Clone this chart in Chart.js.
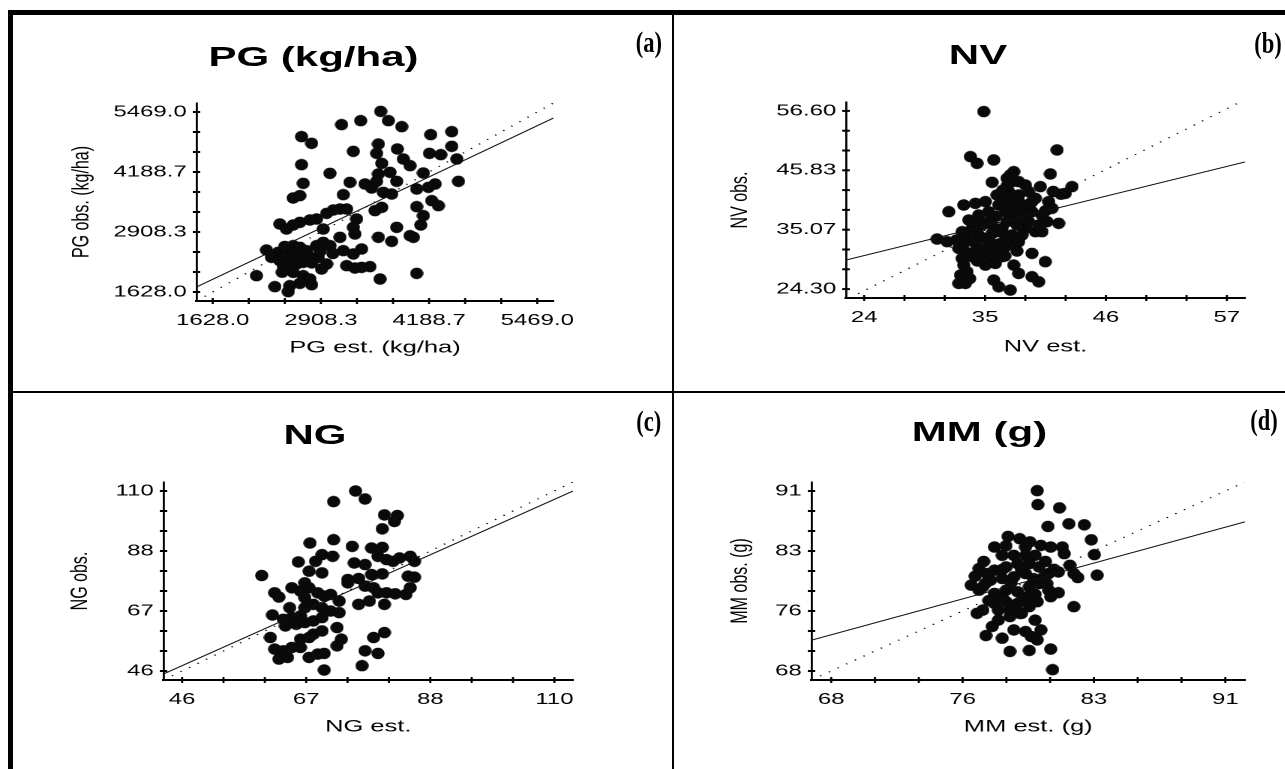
<!DOCTYPE html>
<html lang="pt">
<head>
<meta charset="utf-8">
<title>PG, NV, NG, MM - observado x estimado</title>
<script src="https://cdn.jsdelivr.net/npm/chart.js@4.4.1/dist/chart.umd.min.js"></script>
<style>
  html, body { margin:0; padding:0; background:#fff; }
  #page { position:relative; width:1285px; height:769px; overflow:hidden; background:#fff; }
  .rule { position:absolute; background:#000; }
  /* the whole figure is stretched sideways, like the original export */
  #fig { position:absolute; left:0; top:0; width:856.67px; height:769px; transform:scaleX(1.5); transform-origin:0 0; }
  #fig canvas { position:absolute; }
  .ptitle { position:absolute; transform:translateX(-50%); font:bold 28px/28px 'Liberation Sans', Arial, sans-serif; white-space:nowrap; color:#000; }
  .tag { position:absolute; font:bold 30px/30px 'Liberation Serif', 'DejaVu Serif', serif; color:#000; transform:scaleX(0.75); transform-origin:100% 50%; }
</style>
</head>
<body>
<div id="page">
  <div class="rule" style="left:8px;top:10px;width:1277px;height:5px"></div>
  <div class="rule" style="left:8px;top:10px;width:5px;height:759px"></div>
  <div class="rule" style="left:672px;top:15px;width:2px;height:754px"></div>
  <div class="rule" style="left:13px;top:391px;width:1272px;height:2px"></div>

  <div id="fig">
    <canvas id="cPG" width="354" height="275" style="left:45px;top:83px"></canvas>
    <canvas id="cNV" width="356" height="275" style="left:484px;top:82px"></canvas>
    <canvas id="cNG" width="368" height="275" style="left:44px;top:462px"></canvas>
    <canvas id="cMM" width="356" height="275" style="left:484px;top:462px"></canvas>

    <div class="ptitle" style="left:209px;top:43px">PG (kg/ha)</div>
    <div class="ptitle" style="left:652px;top:41px">NV</div>
    <div class="ptitle" style="left:210px;top:421px">NG</div>
    <div class="ptitle" style="left:653px;top:418px">MM (g)</div>
  </div>

  <div class="tag" style="right:623px;top:27px">(a)</div>
  <div class="tag" style="right:3px;top:28px">(b)</div>
  <div class="tag" style="right:624px;top:406px">(c)</div>
  <div class="tag" style="right:7px;top:405px">(d)</div>
</div>

<script>
// =============================================================
// DATA
// =============================================================

// (a) PG (kg/ha)
const pgEst = [3616, 3153, 3379, 3707, 3865, 2679, 2798, 4208, 4457, 3292,
  3588, 3568, 3813, 4193, 4327, 4457, 4517, 2679, 3628, 3884,
  3963, 3015, 3588, 3726, 4121, 2699, 3252, 3430, 3568, 3805,
  4260, 4536, 2580, 2659, 3173, 3509, 3647, 3746, 4042, 4181,
  4220, 4299, 3055, 2976, 2857, 2778, 2659, 2580, 2422, 2501,
  3134, 3213, 3331, 3548, 3628, 4042, 4121, 4090, 2936, 3292,
  3311, 3805, 3963, 4003, 3134, 3588, 3746, 2264, 2403, 2501,
  2580, 2659, 2738, 2857, 2936, 3015, 3173, 3292, 3390, 2323,
  2422, 2541, 2659, 2758, 2877, 2462, 2541, 2620, 2699, 2976,
  2916, 3213, 3311, 3489, 3390, 2146, 2580, 2699, 2778, 2798,
  2659, 2363, 2541, 2521, 3608, 4042, 2600, 2700, 2480, 2800,
  2560, 2450, 2900, 3050];
const pgObs = [5483, 5199, 5284, 5284, 5156, 4943, 4801, 4986, 5050, 4630,
  4786, 4587, 4680, 4587, 4559, 4737, 4466, 4345, 4374, 4466,
  4324, 4160, 4146, 4182, 4167, 3947, 3968, 3933, 3990, 3990,
  3933, 3990, 3634, 3684, 3705, 3847, 3755, 3719, 3826, 3862,
  3577, 3470, 3378, 3307, 3186, 3165, 3115, 3058, 3079, 2972,
  3399, 3399, 3186, 3364, 3435, 3449, 3257, 3058, 2972, 3008,
  2866, 3008, 2830, 2795, 2795, 2795, 2709, 2524, 2475, 2524,
  2617, 2581, 2510, 2617, 2688, 2617, 2510, 2439, 2546, 2368,
  2297, 2368, 2332, 2403, 2368, 2190, 2154, 2226, 2261, 2226,
  2119, 2190, 2140, 2169, 2154, 1976, 2048, 1976, 1905, 1784,
  1813, 1742, 1763, 1635, 1905, 2026, 2450, 2420, 2600, 2250,
  2300, 2050, 2500, 2450];
const pgTicks = [1628.0, 2908.33, 4188.67, 5469.0];
const pgTickLabels = ['1628.0', '2908.3', '4188.7', '5469.0'];
const pgFitX = [1436, 5661];
const pgFitY = [1735, 5341];
const pgOneToOne = [1436, 5661];

// (b) NV
const nvEst = [34.88, 41.55, 33.67, 34.27, 35.79, 37.61, 37.00, 38.06, 35.64, 40.94,
  40.03, 38.67, 42.91, 42.30, 31.70, 33.06, 34.12, 35.03, 41.09, 41.70,
  30.64, 31.55, 32.91, 33.82, 34.73, 36.09, 36.85, 37.45, 36.24, 36.85,
  37.76, 38.52, 39.27, 40.18, 40.64, 39.58, 40.18, 38.67, 37.91, 37.45,
  36.55, 37.00, 33.21, 34.12, 35.03, 35.64, 32.61, 33.21, 34.12, 35.03,
  35.94, 36.85, 37.45, 32.91, 33.82, 34.73, 35.64, 36.55, 33.06, 35.03,
  35.94, 39.27, 40.48, 37.61, 38.06, 32.76, 33.36, 32.61, 33.21, 35.79,
  36.24, 37.30, 39.27, 39.88, 37.45, 37.15, 38.06, 38.97, 39.58, 40.79,
  35.33, 34.42, 33.52, 35.33, 36.24, 38.06, 38.97, 39.88, 38.36, 34.42,
  37.45, 39.27, 37.30, 37.00, 36.60, 36.80, 37.90, 38.30, 36.00, 35.60,
  34.00, 36.90, 35.50, 33.80, 34.50, 36.30, 38.80, 40.50, 41.20, 41.90,
  39.00, 38.00, 33.00, 32.40, 34.30, 36.80, 37.90, 33.60];
const nvObs = [56.48, 49.52, 48.31, 47.10, 47.71, 45.59, 44.38, 43.78, 43.66, 45.17,
  42.87, 43.17, 42.87, 41.66, 38.33, 39.54, 39.84, 40.15, 38.94, 36.22,
  33.37, 32.89, 34.70, 35.31, 35.91, 41.36, 40.75, 40.15, 39.54, 38.33,
  37.73, 39.54, 38.33, 37.73, 36.52, 34.70, 34.70, 35.31, 35.91, 34.10,
  35.31, 36.52, 32.89, 32.59, 33.49, 34.40, 31.68, 31.07, 31.07, 31.68,
  31.68, 31.98, 32.89, 29.86, 30.17, 30.47, 30.17, 30.17, 28.65, 28.65,
  28.96, 30.77, 29.26, 28.65, 27.14, 26.84, 27.45, 25.33, 25.33, 25.93,
  24.72, 24.12, 26.54, 25.63, 43.78, 41.96, 41.36, 41.96, 40.75, 40.15,
  38.33, 37.73, 36.82, 36.52, 34.70, 32.89, 36.52, 35.91, 34.10, 34.10,
  37.12, 40.15, 45.00, 43.00, 42.20, 39.20, 39.00, 37.00, 37.50, 36.00,
  36.20, 33.50, 32.70, 33.80, 31.50, 32.50, 37.80, 38.50, 42.00, 41.50,
  39.30, 40.50, 33.50, 33.20, 29.40, 30.30, 31.20, 26.20];
const nvXTicks = [24, 35, 46, 57];
const nvXTickLabels = ['24', '35', '46', '57'];
const nvYTicks = [24.30, 35.07, 45.83, 56.60];
const nvYTickLabels = ['24.30', '35.07', '45.83', '56.60'];
const nvFitX = [22.35, 58.65];
const nvFitY = [29.56, 47.34];
const nvOneToOne = [22.69, 58.21];

// (c) NG
const ngEst = [75.82, 77.45, 72.04, 80.78, 83.00, 82.49, 80.41, 67.98, 72.04, 75.24,
  78.56, 80.41, 70.05, 71.89, 68.94, 65.97, 75.59, 77.45, 79.67, 81.14,
  82.27, 83.38, 85.22, 85.95, 59.69, 67.83, 70.05, 74.48, 76.34, 78.56,
  80.41, 84.85, 85.95, 61.91, 62.64, 64.86, 66.34, 67.09, 67.83, 69.31,
  70.42, 71.53, 73.00, 74.48, 77.45, 78.92, 79.67, 81.14, 82.63, 84.48,
  85.22, 76.34, 78.19, 80.78, 67.09, 68.56, 70.05, 71.53, 73.00, 61.53,
  63.39, 64.86, 66.34, 67.09, 64.50, 63.75, 65.61, 67.09, 68.56, 70.05,
  72.64, 61.17, 68.56, 70.05, 78.92, 80.78, 66.34, 67.83, 73.38, 72.64,
  61.91, 63.39, 64.86, 66.34, 62.64, 64.13, 67.83, 69.31, 70.42, 77.45,
  79.67, 70.42, 76.93];
const ngObs = [110.0, 107.17, 106.23, 101.51, 101.28, 99.16, 96.56, 91.50, 92.68, 90.32,
  89.73, 89.96, 87.37, 86.78, 85.01, 84.78, 84.42, 83.84, 86.78, 85.60,
  85.01, 86.19, 86.78, 85.01, 79.95, 81.48, 80.89, 78.53, 78.88, 80.30,
  80.54, 79.71, 79.36, 73.82, 72.28, 75.59, 74.40, 77.35, 75.59, 73.82,
  72.64, 73.23, 70.87, 77.35, 76.17, 75.59, 73.82, 73.82, 73.46, 73.23,
  75.59, 69.69, 70.87, 69.69, 72.05, 69.69, 68.51, 67.33, 66.75, 65.92,
  64.39, 64.98, 65.57, 68.51, 68.51, 62.03, 62.62, 63.21, 63.80, 64.98,
  61.44, 57.91, 59.08, 60.26, 57.91, 59.67, 57.32, 57.91, 57.32, 54.96,
  53.78, 53.19, 54.37, 54.37, 50.24, 50.83, 50.83, 52.01, 52.25, 53.19,
  52.25, 46.35, 47.88];
const ngTicks = [46, 67.33, 88.67, 110];
const ngTickLabels = ['46', '67', '88', '110'];
const ngFitX = [42.8, 113.2];
const ngFitY = [44.94, 110.0];
const ngOneToOne = [42.8, 113.2];

// (d) MM (g)
const mmEst = [80.02, 80.06, 81.32, 80.65, 81.87, 82.77, 83.18, 78.32, 79.00, 79.34,
  77.53, 77.98, 80.24, 80.81, 81.49, 81.60, 83.36, 78.66, 79.34, 79.90,
  76.63, 76.40, 76.17, 77.08, 77.53, 78.21, 78.88, 79.56, 80.13, 76.85,
  77.30, 77.98, 78.66, 79.34, 81.93, 82.16, 81.26, 82.39, 83.52, 80.69,
  80.58, 77.53, 78.21, 78.88, 79.56, 80.13, 80.69, 81.26, 80.81, 76.63,
  77.53, 78.21, 78.88, 79.45, 80.02, 76.85, 76.51, 77.76, 78.43, 79.11,
  79.56, 77.76, 78.43, 79.00, 82.16, 77.03, 77.98, 78.66, 79.34, 79.67,
  80.24, 80.02, 78.43, 79.56, 80.81, 80.92, 78.00, 79.10, 78.50, 79.80,
  80.40, 77.00, 78.00, 79.20, 79.90, 77.20, 80.50, 81.00, 76.90, 78.20,
  79.60, 78.60, 77.40, 79.90];
const mmObs = [91.04, 89.26, 88.84, 86.47, 86.81, 86.68, 84.77, 85.20, 84.90, 83.84,
  83.84, 82.78, 84.05, 83.84, 83.84, 82.99, 82.87, 82.78, 82.78, 82.78,
  81.09, 80.11, 78.97, 80.45, 80.88, 81.30, 81.72, 81.72, 81.30, 78.76,
  79.61, 79.82, 80.03, 80.45, 81.51, 80.45, 80.66, 79.94, 80.24, 80.45,
  79.18, 77.91, 78.33, 78.12, 78.76, 79.18, 78.33, 78.00, 77.49, 78.33,
  76.64, 76.85, 76.64, 77.49, 76.85, 75.79, 75.37, 75.79, 75.79, 75.37,
  76.22, 74.52, 74.95, 75.37, 76.22, 72.53, 72.19, 73.25, 73.04, 72.41,
  73.25, 71.98, 70.50, 70.63, 70.80, 68.17, 81.00, 81.00, 79.30, 79.80,
  80.00, 79.20, 77.30, 77.30, 77.80, 77.00, 82.00, 81.00, 82.00, 84.00,
  84.50, 76.00, 73.70, 74.50];
const mmTicks = [68, 75.67, 83.33, 91];
const mmTickLabels = ['68', '76', '83', '91'];
const mmFitX = [66.85, 92.15];
const mmFitY = [71.94, 87.06];
const mmOneToOne = [66.85, 92.15];

// =============================================================
// PANELS (box = canvas layout inside the stretched figure)
// =============================================================
const panels = [
  { id: 'cPG', est: pgEst, obs: pgObs, fitX: pgFitX, fitY: pgFitY, one: pgOneToOne,
    xTicks: pgTicks, xLabels: pgTickLabels, yTicks: pgTicks, yLabels: pgTickLabels,
    xTitle: 'PG est. (kg/ha)', yTitle: 'PG obs. (kg/ha)',
    box: { yW: 86, xH: 57, padT: 20, padR: 30 } },
  { id: 'cNV', est: nvEst, obs: nvObs, fitX: nvFitX, fitY: nvFitY, one: nvOneToOne,
    xTicks: nvXTicks, xLabels: nvXTickLabels, yTicks: nvYTicks, yLabels: nvYTickLabels,
    xTitle: 'NV est.', yTitle: 'NV obs.',
    box: { yW: 80, xH: 59, padT: 20, padR: 10 } },
  { id: 'cNG', est: ngEst, obs: ngObs, fitX: ngFitX, fitY: ngFitY, one: ngOneToOne,
    xTicks: ngTicks, xLabels: ngTickLabels, yTicks: ngTicks, yLabels: ngTickLabels,
    xTitle: 'NG est.', yTitle: 'NG obs.',
    box: { yW: 65, xH: 57, padT: 20, padR: 30 } },
  { id: 'cMM', est: mmEst, obs: mmObs, fitX: mmFitX, fitY: mmFitY, one: mmOneToOne,
    xTicks: mmTicks, xLabels: mmTickLabels, yTicks: mmTicks, yLabels: mmTickLabels,
    xTitle: 'MM est. (g)', yTitle: 'MM obs. (g)',
    box: { yW: 57, xH: 57, padT: 20, padR: 10 } },
];

// =============================================================
// HELPERS
// =============================================================
Chart.defaults.font.family = "'Liberation Sans', Arial, sans-serif";
Chart.defaults.color = '#000';

// three tick intervals between labelled values
function tickValues(majors){
  const out = [];
  for (let i = 0; i < majors.length - 1; i++){
    const step = (majors[i+1] - majors[i]) / 3;
    out.push(majors[i], majors[i] + step, majors[i] + 2*step);
  }
  out.push(majors[majors.length - 1]);
  return out;
}

function axis(majors, labels, title, opts){
  const ticks = tickValues(majors);
  const span = majors[majors.length - 1] - majors[0];
  return {
    type: 'linear',
    bounds: 'data',
    min: majors[0] - span * 0.05,
    max: majors[majors.length - 1] + span * 0.05,
    afterBuildTicks: s => { s.ticks = ticks.map(v => ({ value: v })); },
    afterFit: s => { if (s.isHorizontal()) s.height = opts.size; else s.width = opts.size; },
    grid: { display: false, drawTicks: false },
    border: { display: true, color: '#000', width: opts.lineW },
    ticks: {
      autoSkip: false, maxRotation: 0, padding: opts.pad, color: '#000',
      font: { size: 16 },
      callback: (v, i) => (i % 3 === 0 ? labels[i / 3] : '')
    },
    title: { display: true, text: title, color: '#000', font: { size: opts.titleSize }, padding: 0 }
  };
}

// little tick marks that cross the axis lines
const crossTicks = {
  id: 'crossTicks',
  afterDraw(chart){
    const { ctx, chartArea, scales } = chart;
    ctx.save();
    ctx.strokeStyle = '#000';
    ctx.lineWidth = 1.4;
    scales.x.ticks.forEach(t => {
      const px = scales.x.getPixelForValue(t.value);
      ctx.beginPath(); ctx.moveTo(px, chartArea.bottom - 3); ctx.lineTo(px, chartArea.bottom + 3); ctx.stroke();
    });
    ctx.lineWidth = 2;
    scales.y.ticks.forEach(t => {
      const py = scales.y.getPixelForValue(t.value);
      ctx.beginPath(); ctx.moveTo(chartArea.left - 2.5, py); ctx.lineTo(chartArea.left + 2.5, py); ctx.stroke();
    });
    ctx.restore();
  }
};

// dot image: the figure is stretched 1.5x, so draw it narrower
function makeDot(onReady){
  const c = document.createElement('canvas');
  c.width = 36; c.height = 48;
  const g = c.getContext('2d');
  g.fillStyle = '#0a0a0a';
  g.beginPath(); g.ellipse(18, 24, 17.5, 23, 0, 0, Math.PI * 2); g.fill();
  const img = new Image();
  img.width = 9; img.height = 12;
  img.onload = () => onReady(img);
  img.src = c.toDataURL();
}

function drawPanel(p, dot){
  const pts = p.est.map((x, i) => ({ x, y: p.obs[i] }));
  const fit = p.fitX.map((x, i) => ({ x, y: p.fitY[i] }));
  const one = p.one.map(v => ({ x: v, y: v }));

  new Chart(document.getElementById(p.id), {
    type: 'scatter',
    data: {
      datasets: [
        { data: fit, showLine: true, borderColor: '#111', borderWidth: 1, pointRadius: 0 },
        { data: one, showLine: true, borderColor: '#000', borderWidth: 1.2, borderDash: [1, 6], pointRadius: 0 },
        { data: pts, pointStyle: dot, pointRadius: 5, backgroundColor: '#000', borderColor: '#000' }
      ]
    },
    options: {
      responsive: false,
      animation: false,
      devicePixelRatio: 2,
      layout: { padding: { top: p.box.padT, right: p.box.padR, left: 0, bottom: 0 } },
      plugins: { legend: { display: false }, tooltip: { enabled: false } },
      scales: {
        x: axis(p.xTicks, p.xLabels, p.xTitle, { size: p.box.xH, lineW: 2, pad: 10, titleSize: 17 }),
        y: axis(p.yTicks, p.yLabels, p.yTitle, { size: p.box.yW, lineW: 1.4, pad: 6.5, titleSize: 16 })
      }
    },
    plugins: [crossTicks]
  });
}

// =============================================================
// INIT
// =============================================================
makeDot(dot => panels.forEach(p => drawPanel(p, dot)));
</script>
</body>
</html>
